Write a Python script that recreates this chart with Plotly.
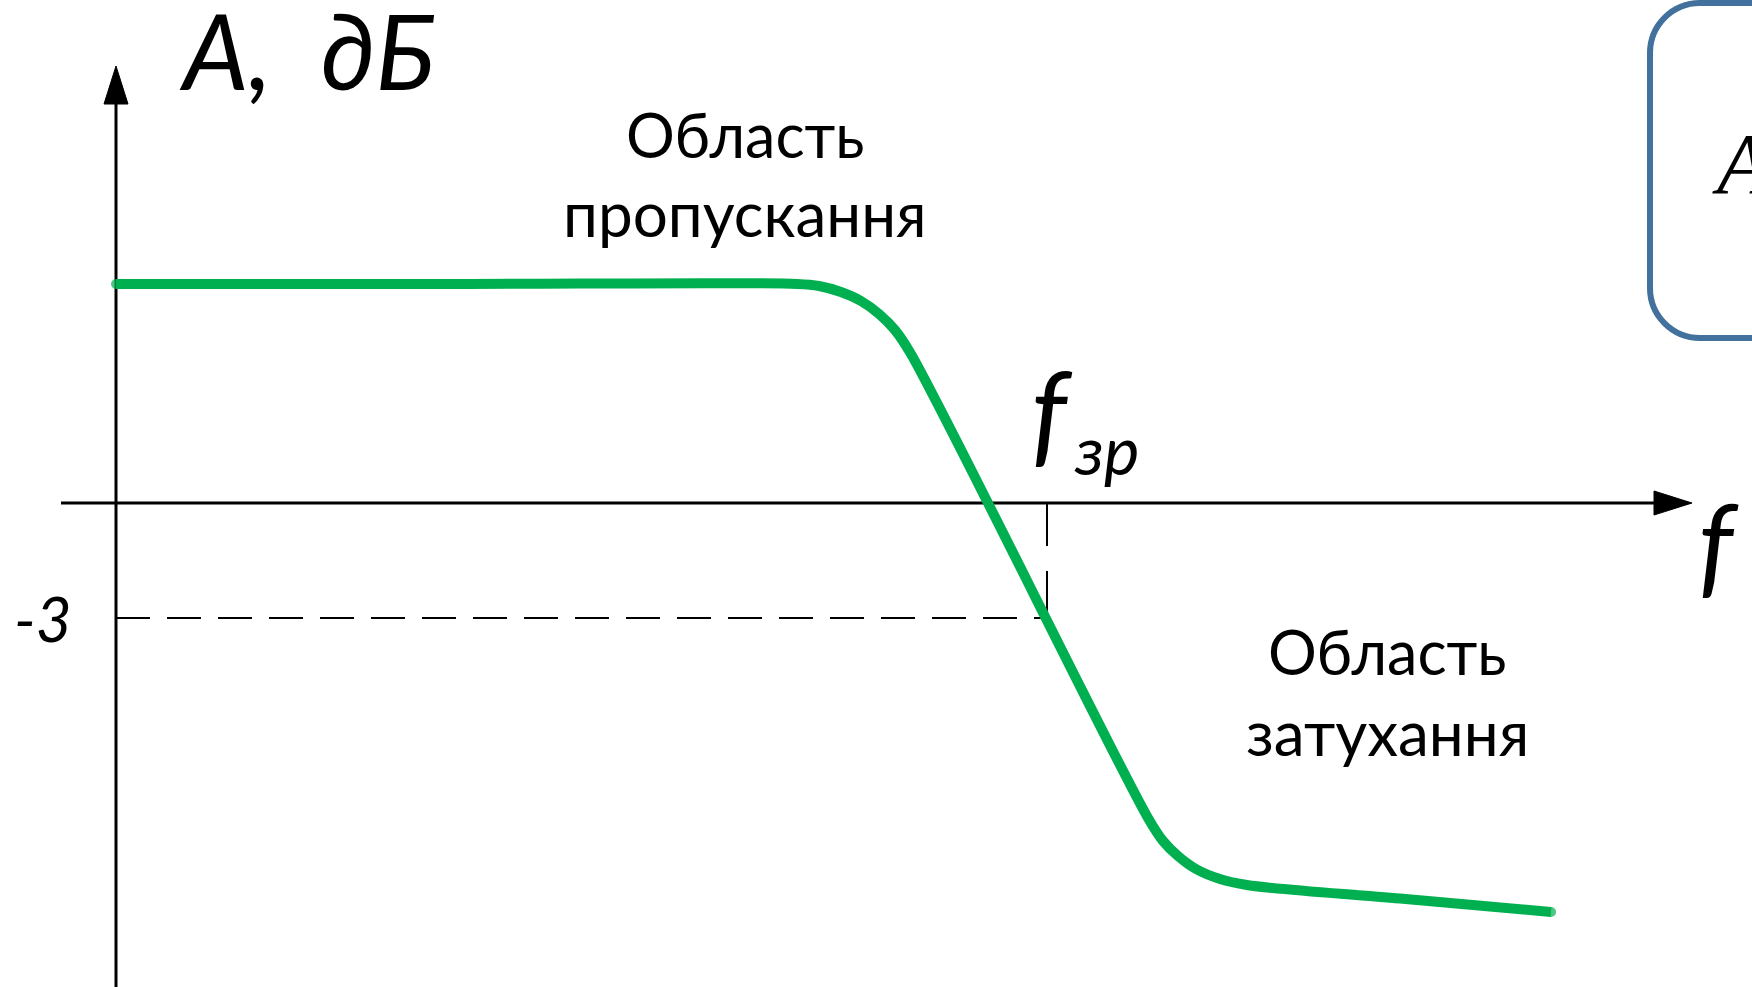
import plotly.graph_objects as go

# ---- data (normalized frequency f/f_cp, attenuation A in dB) ----
freq = [0.0, 0.3588, 0.7315, 0.7551, 0.7787, 0.8002, 0.8196, 0.8367, 0.8539,
        1.1085, 1.1246, 1.1407, 1.1600, 1.1858, 1.2148, 1.3792, 1.5414]
atten = [5.713, 5.713, 5.713, 5.661, 5.504, 5.270, 4.931, 4.513, 3.887,
         -8.217, -8.817, -9.209, -9.548, -9.809, -9.965, -10.318, -10.670]
f_cutoff = 1.0
a_cutoff = -3.0
tick_label = "-3"

# ---- layout geometry ----
W, H = 1752, 987
X0PX, FSCALE = 116, 931.0      # pixel of f=0, pixels per unit f
Y0PX, DBSCALE = 503, 38.333    # pixel of A=0, pixels per dB

def fx(px):
    return (px - X0PX) / FSCALE

def fy(py):
    return (Y0PX - py) / DBSCALE

GREEN = "#00B050"
BLUE = "#41719C"

fig = go.Figure()

# dashed guide lines at -3 dB
fig.add_trace(go.Scatter(x=[0, f_cutoff], y=[a_cutoff, a_cutoff], mode="lines",
                         line=dict(color="black", width=2, dash="34px,17px"),
                         hoverinfo="skip", showlegend=False))
fig.add_trace(go.Scatter(x=[f_cutoff, f_cutoff], y=[0, a_cutoff], mode="lines",
                         line=dict(color="black", width=2, dash="43px,25px"),
                         hoverinfo="skip", showlegend=False))

# frequency response
end_sizes = [10] + [0] * (len(freq) - 2) + [10]
fig.add_trace(go.Scatter(x=freq, y=atten, mode="lines+markers",
                         line=dict(color=GREEN, width=10, shape="spline", smoothing=1),
                         marker=dict(color=GREEN, size=end_sizes, line=dict(width=0)),
                         hoverinfo="skip", showlegend=False))

shapes = []
# axes lines
shapes.append(dict(type="line", xref="x", yref="y", x0=fx(61), x1=fx(1656), y0=0, y1=0,
                   line=dict(color="black", width=3), layer="below"))
shapes.append(dict(type="line", xref="x", yref="y", x0=0, x1=0, y0=fy(H + 5), y1=fy(100),
                   line=dict(color="black", width=3), layer="below"))
# arrow heads
shapes.append(dict(type="path", xref="x", yref="y",
                   path=f"M {fx(1654)} {fy(491)} L {fx(1692)} {fy(503)} L {fx(1654)} {fy(515)} Z",
                   fillcolor="black", line=dict(color="black", width=1)))
shapes.append(dict(type="path", xref="x", yref="y",
                   path=f"M {fx(104)} {fy(104)} L {fx(116)} {fy(66)} L {fx(128)} {fy(104)} Z",
                   fillcolor="black", line=dict(color="black", width=1)))
# rounded box on the right (partially visible)
k = 0.5523 * 50
bx, bt, bb, br = 1650, 3, 338, 1950
path = (f"M {fx(br)} {fy(bt)} L {fx(bx+50)} {fy(bt)} "
        f"C {fx(bx+50-k)} {fy(bt)} {fx(bx)} {fy(bt+50-k)} {fx(bx)} {fy(bt+50)} "
        f"L {fx(bx)} {fy(bb-50)} "
        f"C {fx(bx)} {fy(bb-50+k)} {fx(bx+50-k)} {fy(bb)} {fx(bx+50)} {fy(bb)} "
        f"L {fx(br)} {fy(bb)}")
shapes.append(dict(type="path", xref="x", yref="y", path=path,
                   line=dict(color=BLUE, width=6)))

SANS = "Lato"
ann = []
def text(px, py, s, size, family=SANS, xanchor="center", color="black"):
    ann.append(dict(x=fx(px), y=fy(py), xref="x", yref="y", text=s, showarrow=False,
                    xanchor=xanchor, yanchor="middle",
                    font=dict(family=family, size=size, color=color)))

text(307, 49, "<i>A,  дБ</i>", 104)
text(745, 134, "Область", 61)
text(745, 213, "пропускання", 62)
text(1387, 651, "Область", 61)
text(1387, 732, "затухання", 62)
text(1029, 409, "<i>f</i>", 112, xanchor="left")
text(1072, 449, "<i>зр</i>", 67, xanchor="left")
text(1696, 541, "<i>f</i>", 110, xanchor="left")
text(43, 618, f"<i>{tick_label}</i>", 62)
text(1710, 164, "<i>A</i>", 86, family="Liberation Serif", xanchor="left")

fig.update_layout(
    width=W, height=H,
    margin=dict(l=0, r=0, t=0, b=0),
    paper_bgcolor="white", plot_bgcolor="white",
    xaxis=dict(range=[fx(0), fx(W)], visible=False, showgrid=False, zeroline=False, fixedrange=True),
    yaxis=dict(range=[fy(H), fy(0)], visible=False, showgrid=False, zeroline=False, fixedrange=True),
    shapes=shapes, annotations=ann, showlegend=False,
)

fig.write_html("out.html", config={"displayModeBar": False},
               post_script="document.body.style.margin='0px';")
